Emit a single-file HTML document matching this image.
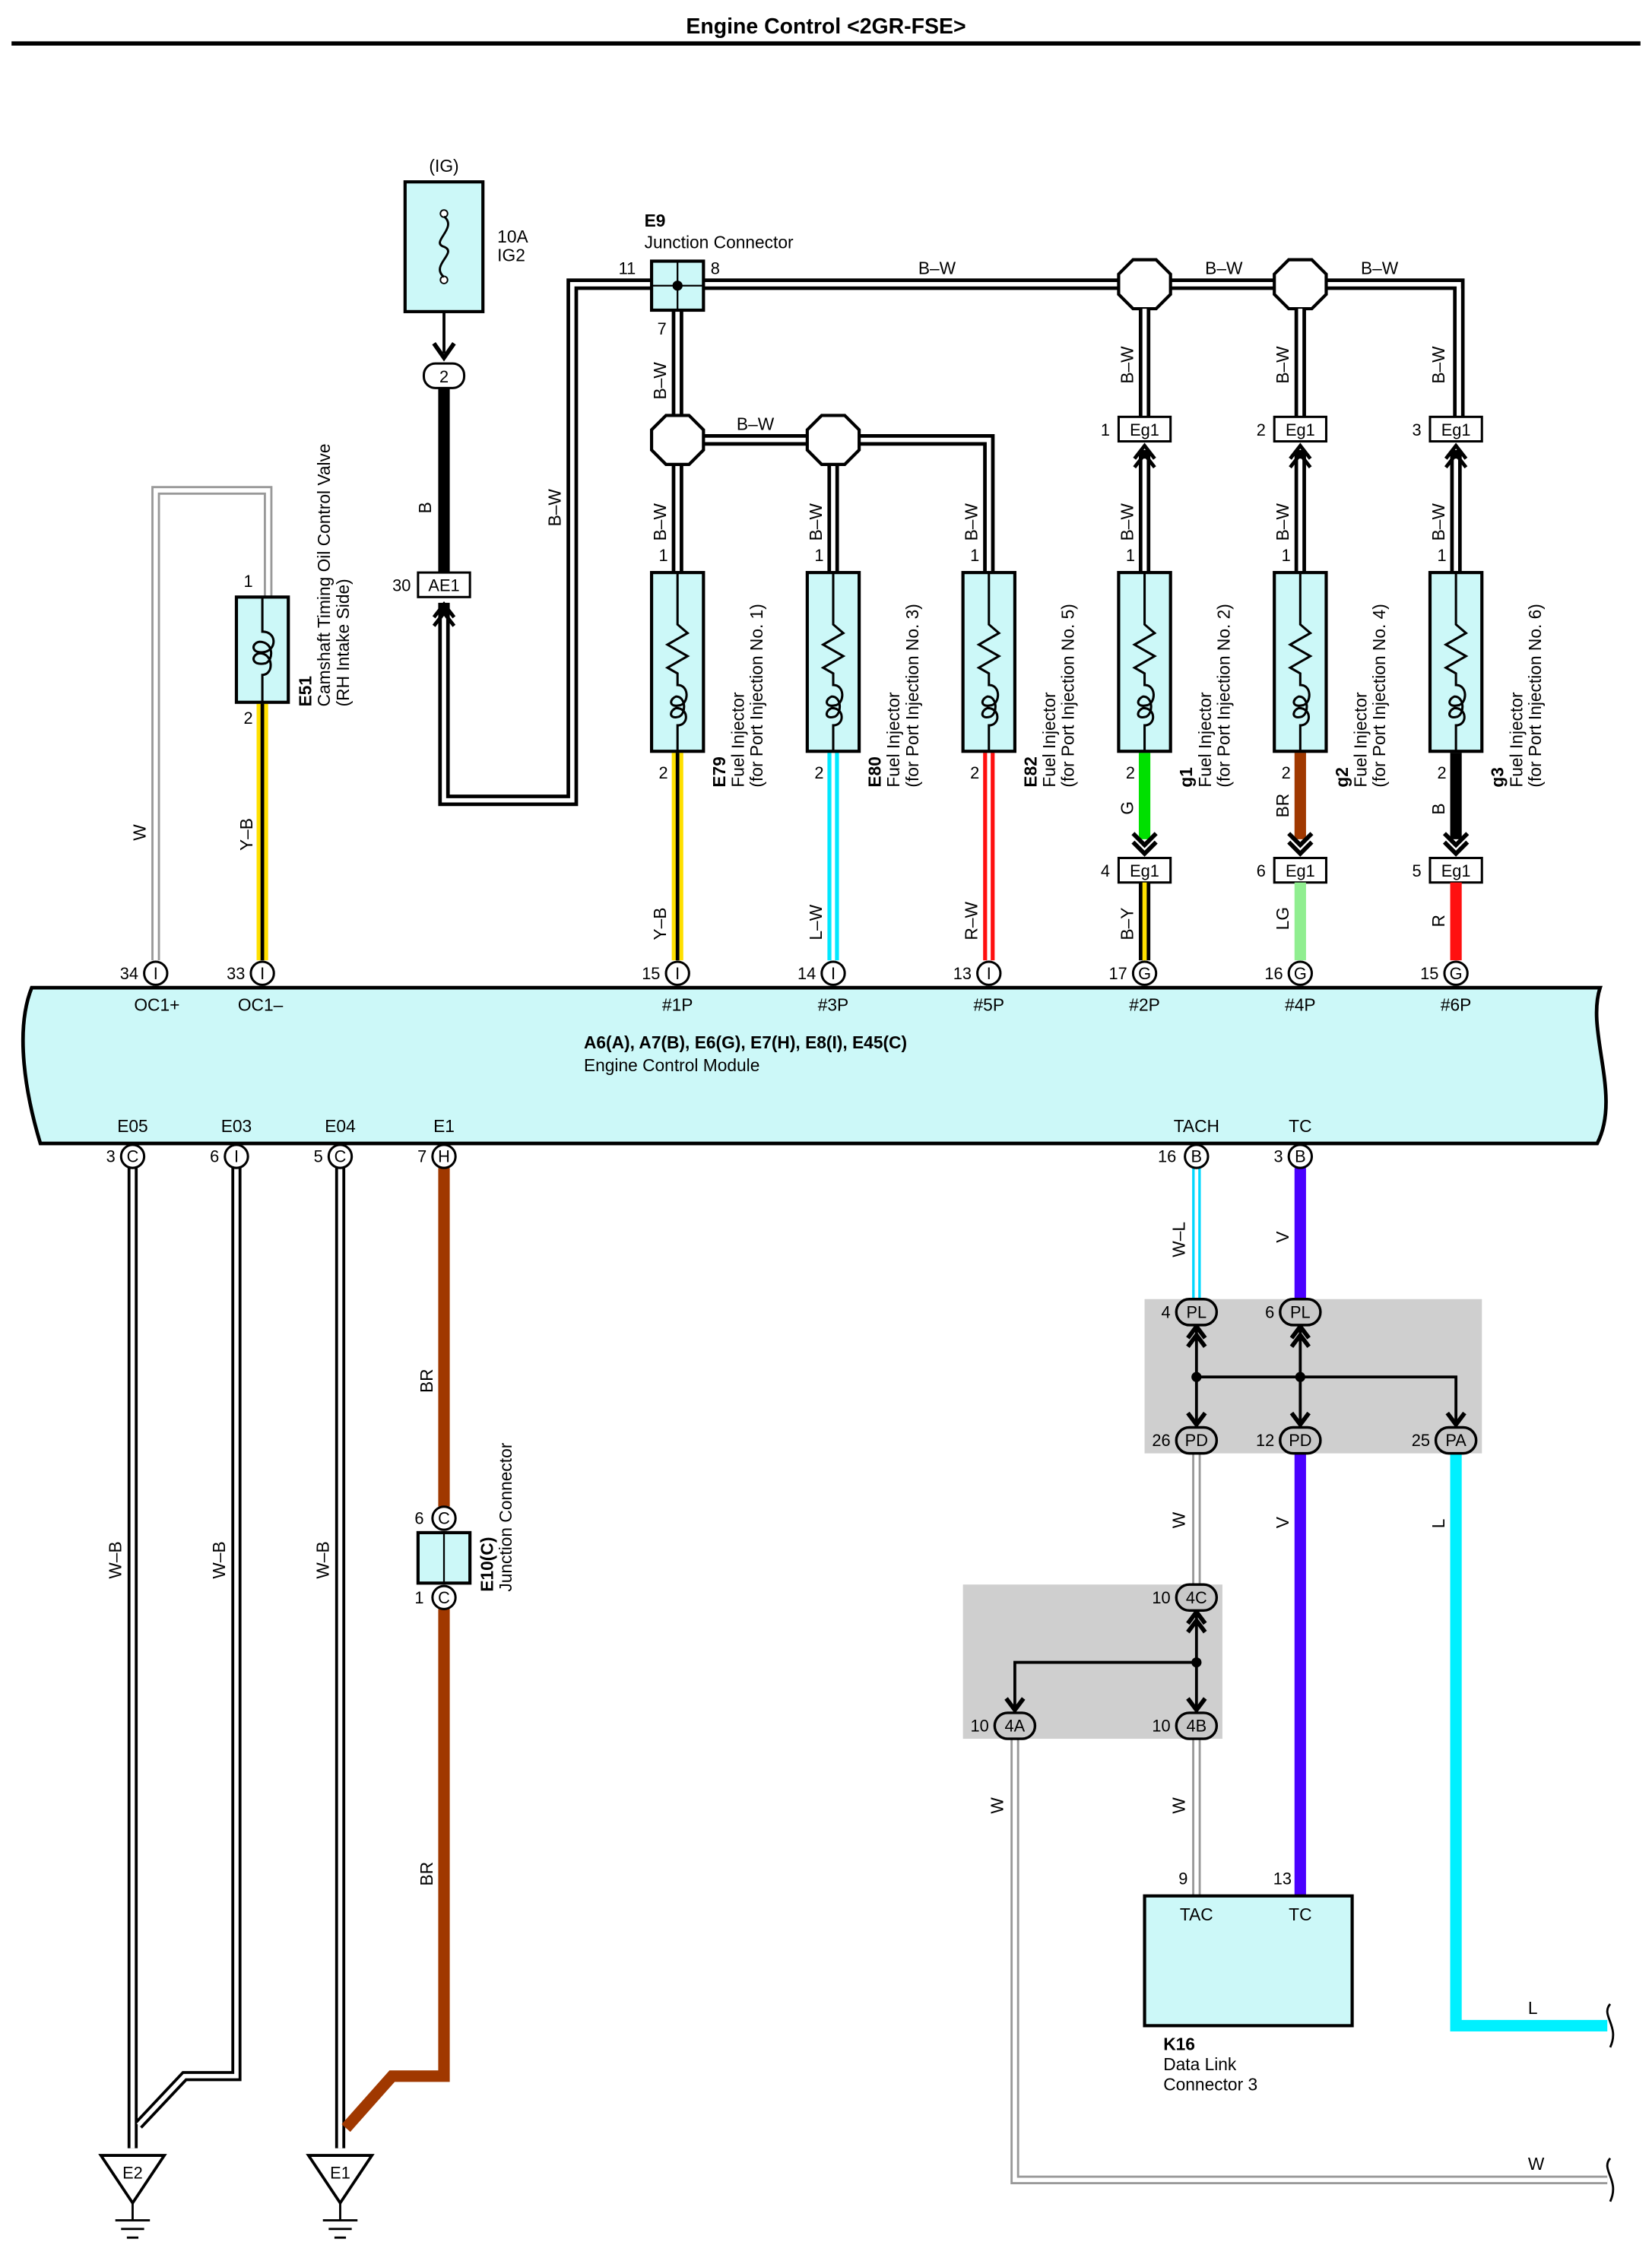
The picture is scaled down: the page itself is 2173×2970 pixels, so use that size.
<!DOCTYPE html>
<html><head><meta charset="utf-8"><style>
html,body{margin:0;padding:0;background:#fff}
svg{display:block}
text{font-family:"Liberation Sans",sans-serif;font-size:12px;fill:#000}
.b{font-weight:bold}
.n{font-size:11.5px}
.box{fill:#ccf8f8;stroke:#000;stroke-width:2.2}
.gb{fill:#cfcfcf;stroke:none}
.ov{fill:#c8c8c8;stroke:#000;stroke-width:1.8}
.c{fill:#fff;stroke:#000;stroke-width:1.6}
.w{fill:none;stroke-linejoin:miter}
</style></head><body>
<svg width="2173" height="2970" viewBox="0 0 1146 1566" xmlns="http://www.w3.org/2000/svg">
<text x="573" y="23" text-anchor="middle" class="b" style="font-size:15px">Engine Control &lt;2GR-FSE&gt;</text>
<line x1="8" y1="30" x2="1138" y2="30" stroke="#000" stroke-width="3"/>

<!-- Fuse -->
<text x="308" y="119" text-anchor="middle">(IG)</text>
<rect class="box" x="281" y="126" width="54" height="90"/>
<circle cx="308" cy="148" r="2.5" fill="#fff" stroke="#000"/>
<circle cx="308" cy="194" r="2.5" fill="#fff" stroke="#000"/>
<path d="M308,150 C318,158 298,168 308,171 C318,175 298,184 308,192" fill="none" stroke="#000" stroke-width="1.5"/>
<text x="345" y="168">10A</text><text x="345" y="181">IG2</text>
<line x1="308" y1="216" x2="308" y2="245" stroke="#000" stroke-width="2"/>
<path d="M301,238 L308,248 L315,238" fill="none" stroke="#000" stroke-width="3"/>
<rect class="c" x="294" y="252" width="28" height="17" rx="8"/>
<text x="308" y="265" text-anchor="middle" class="n">2</text>
<line x1="308" y1="269" x2="308" y2="397" stroke="#000" stroke-width="8"/>
<text transform="translate(299,356) rotate(-90)">B</text>
<rect class="c" x="290" y="397" width="36" height="17"/><text x="308" y="410" text-anchor="middle" class="n">AE1</text>
<text x="285" y="410" text-anchor="end" class="n">30</text>

<!-- B-W loop from AE1 to E9 -->
<path class="w" d="M308,418 V555 H397 V197 H452" stroke="#000" stroke-width="8"/>
<path class="w" d="M308,425 V555 H397 V197 H452" stroke="#fff" stroke-width="3"/>
<path d="M301,428 L308,419 L315,428 M301,434 L308,425 L315,434" fill="none" stroke="#000" stroke-width="2.5"/>
<text transform="translate(389,365) rotate(-90)">B–W</text>

<!-- Top B-W bus -->
<path class="w" d="M488,197 H1012 V290" stroke="#000" stroke-width="8"/>
<path class="w" d="M488,197 H1012 V290" stroke="#fff" stroke-width="3"/>
<text x="650" y="190" text-anchor="middle">B–W</text>
<text x="849" y="190" text-anchor="middle">B–W</text>
<text x="957" y="190" text-anchor="middle">B–W</text>
<!-- E9 down -->
<path class="w" d="M470,215 V305 H686 V397" stroke="#000" stroke-width="8"/>
<path class="w" d="M470,215 V305 H686 V397" stroke="#fff" stroke-width="3"/>
<path class="w" d="M470,305 V397 M578,305 V397" stroke="#000" stroke-width="8"/>
<path class="w" d="M470,305 V397 M578,305 V397" stroke="#fff" stroke-width="3"/>
<text x="524" y="298" text-anchor="middle">B–W</text>
<text transform="translate(462,277) rotate(-90)">B–W</text>
<text x="447" y="157" class="b">E9</text><text x="447" y="172">Junction Connector</text>
<rect class="box" x="452" y="181" width="36" height="34"/>
<line x1="452" y1="198" x2="488" y2="198" stroke="#000" stroke-width="1.2"/>
<line x1="470" y1="181" x2="470" y2="215" stroke="#000" stroke-width="1.2"/>
<circle cx="470" cy="198" r="3.5"/>
<text x="441" y="190" text-anchor="end" class="n">11</text><text x="493" y="190" class="n">8</text><text x="456" y="232" class="n">7</text>

<!-- Octagons -->
<g fill="#fff" stroke="#000" stroke-width="2.2">
<polygon points="462,288 478,288 488,298 488,312 478,322 462,322 452,312 452,298"/>
<polygon points="570,288 586,288 596,298 596,312 586,322 570,322 560,312 560,298"/>
<polygon points="786,180 802,180 812,190 812,204 802,214 786,214 776,204 776,190"/>
<polygon points="894,180 910,180 920,190 920,204 910,214 894,214 884,204 884,190"/>
</g>
<!-- Right B-W down to Eg1 -->
<path class="w" d="M794,214 V290 M902,214 V290" stroke="#000" stroke-width="8"/>
<path class="w" d="M794,214 V290 M902,214 V290 M1012,200 V290" stroke="#fff" stroke-width="3"/>

<!-- Injector columns -->
<g id="inj">
</g>
<script>0</script>
<!-- column elements written explicitly -->
<g>
<!-- B-W labels & wires into injectors -->
<text transform="translate(462,375) rotate(-90)">B–W</text>
<text transform="translate(570,375) rotate(-90)">B–W</text>
<text transform="translate(678,375) rotate(-90)">B–W</text>
<text transform="translate(786,375) rotate(-90)">B–W</text>
<text transform="translate(894,375) rotate(-90)">B–W</text>
<text transform="translate(1002,375) rotate(-90)">B–W</text>
<text transform="translate(786,266) rotate(-90)">B–W</text>
<text transform="translate(894,266) rotate(-90)">B–W</text>
<text transform="translate(1002,266) rotate(-90)">B–W</text>
<!-- Eg1 top boxes -->
<rect class="c" x="776" y="289" width="36" height="17"/><text x="794" y="302" text-anchor="middle" class="n">Eg1</text><text x="770" y="302" text-anchor="end" class="n">1</text>
<rect class="c" x="884" y="289" width="36" height="17"/><text x="902" y="302" text-anchor="middle" class="n">Eg1</text><text x="878" y="302" text-anchor="end" class="n">2</text>
<rect class="c" x="992" y="289" width="36" height="17"/><text x="1010" y="302" text-anchor="middle" class="n">Eg1</text><text x="986" y="302" text-anchor="end" class="n">3</text>
<path class="w" d="M794,312 V397 M902,312 V397 M1010,312 V397" stroke="#000" stroke-width="8"/>
<path class="w" d="M794,318 V397 M902,318 V397 M1010,318 V397" stroke="#fff" stroke-width="3"/>
<path d="M787,318 L794,309 L801,318 M787,324 L794,315 L801,324 M895,318 L902,309 L909,318 M895,324 L902,315 L909,324 M1003,318 L1010,309 L1017,318 M1003,324 L1010,315 L1017,324" fill="none" stroke="#000" stroke-width="2.5"/>

<!-- pin 1 labels -->
<text x="457" y="389" class="n">1</text><text x="565" y="389" class="n">1</text><text x="673" y="389" class="n">1</text>
<text x="781" y="389" class="n">1</text><text x="889" y="389" class="n">1</text><text x="997" y="389" class="n">1</text>
<text x="457" y="540" class="n">2</text><text x="565" y="540" class="n">2</text><text x="673" y="540" class="n">2</text>
<text x="781" y="540" class="n">2</text><text x="889" y="540" class="n">2</text><text x="997" y="540" class="n">2</text>

<!-- lower wires left three -->
<path d="M470,522 V666" stroke="#ffe000" stroke-width="8"/><path d="M470,522 V666" stroke="#000" stroke-width="2.5"/>
<path d="M578,522 V666" stroke="#00e8ff" stroke-width="8"/><path d="M578,522 V666" stroke="#fff" stroke-width="2.5"/>
<path d="M686,522 V666" stroke="#ff1010" stroke-width="8"/><path d="M686,522 V666" stroke="#fff" stroke-width="2.5"/>
<text transform="translate(462,652) rotate(-90)">Y–B</text>
<text transform="translate(570,652) rotate(-90)">L–W</text>
<text transform="translate(678,652) rotate(-90)">R–W</text>
<!-- right three -->
<path d="M794,522 V582" stroke="#00e000" stroke-width="8"/>
<path d="M902,522 V582" stroke="#a03800" stroke-width="8"/>
<path d="M1010,522 V582" stroke="#000" stroke-width="8"/>
<path d="M786,578 L794,586 L802,578 M786,584 L794,592 L802,584 M894,578 L902,586 L910,578 M894,584 L902,592 L910,584 M1002,578 L1010,586 L1018,578 M1002,584 L1010,592 L1018,584" fill="none" stroke="#000" stroke-width="3"/>
<text transform="translate(786,565) rotate(-90)">G</text>
<text transform="translate(894,567) rotate(-90)">BR</text>
<text transform="translate(1002,565) rotate(-90)">B</text>
<rect class="c" x="776" y="595" width="36" height="17"/><text x="794" y="608" text-anchor="middle" class="n">Eg1</text><text x="770" y="608" text-anchor="end" class="n">4</text>
<rect class="c" x="884" y="595" width="36" height="17"/><text x="902" y="608" text-anchor="middle" class="n">Eg1</text><text x="878" y="608" text-anchor="end" class="n">6</text>
<rect class="c" x="992" y="595" width="36" height="17"/><text x="1010" y="608" text-anchor="middle" class="n">Eg1</text><text x="986" y="608" text-anchor="end" class="n">5</text>
<path d="M794,612 V666" stroke="#000" stroke-width="8"/><path d="M794,612 V666" stroke="#ffe000" stroke-width="3"/>
<path d="M902,612 V666" stroke="#90ee90" stroke-width="8"/>
<path d="M1010,612 V666" stroke="#ff1010" stroke-width="8"/>
<text transform="translate(786,652) rotate(-90)">B–Y</text>
<text transform="translate(894,645) rotate(-90)">LG</text>
<text transform="translate(1002,643) rotate(-90)">R</text>
</g>

<!-- injector boxes -->
<g>
<defs>
<g id="ib">
<rect class="box" x="-18" y="0" width="36" height="124"/>
<path d="M0,0 V36 L7,42 L-7,50 L7,58 L-7,66 L0,70 V78 C8,78 8,90 2,92 C-6,94 -6,88 -1,86 C6,86 6,98 1,100 C-6,102 -6,96 -1,94 C8,94 8,106 0,106 V124" fill="none" stroke="#000" stroke-width="1.6"/>
</g>
</defs>
<use href="#ib" x="470" y="397"/><use href="#ib" x="578" y="397"/><use href="#ib" x="686" y="397"/>
<use href="#ib" x="794" y="397"/><use href="#ib" x="902" y="397"/><use href="#ib" x="1010" y="397"/>
</g>
<!-- injector labels -->
<g>
<g transform="translate(503,546) rotate(-90)"><text class="b">E79</text><text y="13">Fuel Injector</text><text y="26">(for Port Injection No. 1)</text></g>
<g transform="translate(611,546) rotate(-90)"><text class="b">E80</text><text y="13">Fuel Injector</text><text y="26">(for Port Injection No. 3)</text></g>
<g transform="translate(719,546) rotate(-90)"><text class="b">E82</text><text y="13">Fuel Injector</text><text y="26">(for Port Injection No. 5)</text></g>
<g transform="translate(827,546) rotate(-90)"><text class="b">g1</text><text y="13">Fuel Injector</text><text y="26">(for Port Injection No. 2)</text></g>
<g transform="translate(935,546) rotate(-90)"><text class="b">g2</text><text y="13">Fuel Injector</text><text y="26">(for Port Injection No. 4)</text></g>
<g transform="translate(1043,546) rotate(-90)"><text class="b">g3</text><text y="13">Fuel Injector</text><text y="26">(for Port Injection No. 6)</text></g>
</g>

<!-- Camshaft valve -->
<path class="w" d="M108,666 V340 H186 V414" stroke="#999" stroke-width="6"/>
<path class="w" d="M108,666 V340 H186 V414" stroke="#fff" stroke-width="3"/>
<text transform="translate(101,583) rotate(-90)">W</text>
<path d="M182,488 V666" stroke="#ffe000" stroke-width="8"/><path d="M182,488 V666" stroke="#000" stroke-width="2.5"/>
<text transform="translate(175,590) rotate(-90)">Y–B</text>
<text x="169" y="407" class="n">1</text><text x="169" y="502" class="n">2</text>
<rect class="box" x="164" y="414" width="36" height="73"/>
<path d="M182,414 V438 C192,438 192,450 184,452 C174,454 174,446 180,445 C190,445 190,458 184,460 C174,462 174,454 180,453 C190,453 190,468 182,468 V487" fill="none" stroke="#000" stroke-width="1.6"/>
<g transform="translate(216,490) rotate(-90)"><text class="b">E51</text><text y="13">Camshaft Timing Oil Control Valve</text><text y="26">(RH Intake Side)</text></g>

<!-- ECM -->
<path d="M22,685 H1110 C1100,715 1125,760 1108,793 H28 C18,760 10,715 22,685 Z" fill="#ccf8f8" stroke="#000" stroke-width="2.5"/>
<text x="405" y="727" class="b">A6(A), A7(B), E6(G), E7(H), E8(I), E45(C)</text>
<text x="405" y="743">Engine Control Module</text>
<!-- top pins -->
<g>
<circle class="c" cx="108" cy="675" r="8"/><text x="108" y="679" text-anchor="middle" class="n">I</text><text x="96" y="679" text-anchor="end" class="n">34</text><text x="93" y="701">OC1+</text>
<circle class="c" cx="182" cy="675" r="8"/><text x="182" y="679" text-anchor="middle" class="n">I</text><text x="170" y="679" text-anchor="end" class="n">33</text><text x="165" y="701">OC1–</text>
<circle class="c" cx="470" cy="675" r="8"/><text x="470" y="679" text-anchor="middle" class="n">I</text><text x="458" y="679" text-anchor="end" class="n">15</text><text x="470" y="701" text-anchor="middle">#1P</text>
<circle class="c" cx="578" cy="675" r="8"/><text x="578" y="679" text-anchor="middle" class="n">I</text><text x="566" y="679" text-anchor="end" class="n">14</text><text x="578" y="701" text-anchor="middle">#3P</text>
<circle class="c" cx="686" cy="675" r="8"/><text x="686" y="679" text-anchor="middle" class="n">I</text><text x="674" y="679" text-anchor="end" class="n">13</text><text x="686" y="701" text-anchor="middle">#5P</text>
<circle class="c" cx="794" cy="675" r="8"/><text x="794" y="679" text-anchor="middle" class="n">G</text><text x="782" y="679" text-anchor="end" class="n">17</text><text x="794" y="701" text-anchor="middle">#2P</text>
<circle class="c" cx="902" cy="675" r="8"/><text x="902" y="679" text-anchor="middle" class="n">G</text><text x="890" y="679" text-anchor="end" class="n">16</text><text x="902" y="701" text-anchor="middle">#4P</text>
<circle class="c" cx="1010" cy="675" r="8"/><text x="1010" y="679" text-anchor="middle" class="n">G</text><text x="998" y="679" text-anchor="end" class="n">15</text><text x="1010" y="701" text-anchor="middle">#6P</text>
</g>
<!-- bottom pins labels -->
<text x="92" y="785" text-anchor="middle">E05</text><text x="164" y="785" text-anchor="middle">E03</text>
<text x="236" y="785" text-anchor="middle">E04</text><text x="308" y="785" text-anchor="middle">E1</text>
<text x="830" y="785" text-anchor="middle">TACH</text><text x="902" y="785" text-anchor="middle">TC</text>

<!-- Ground wires -->
<path class="w" d="M92,810 V1490 M164,810 V1440 L128,1440 L96,1474 M236,810 V1490" stroke="#000" stroke-width="7"/>
<path class="w" d="M92,810 V1490 M164,810 V1440 L128,1440 L96,1474 M236,810 V1490" stroke="#fff" stroke-width="3"/>
<text transform="translate(84,1095) rotate(-90)">W–B</text>
<text transform="translate(156,1095) rotate(-90)">W–B</text>
<text transform="translate(228,1095) rotate(-90)">W–B</text>
<path class="w" d="M308,810 V1045 M308,1116 V1440 H272 L240,1476" stroke="#a03800" stroke-width="8"/>
<text transform="translate(300,966) rotate(-90)">BR</text>
<text transform="translate(300,1308) rotate(-90)">BR</text>
<circle class="c" cx="308" cy="1053" r="8"/><text x="308" y="1057" text-anchor="middle" class="n">C</text><text x="294" y="1057" text-anchor="end" class="n">6</text>
<rect class="box" x="290" y="1063" width="36" height="35"/><line x1="308" y1="1063" x2="308" y2="1098" stroke="#000" stroke-width="1.2"/>
<circle class="c" cx="308" cy="1108" r="8"/><text x="308" y="1112" text-anchor="middle" class="n">C</text><text x="294" y="1112" text-anchor="end" class="n">1</text>
<g transform="translate(342,1104) rotate(-90)"><text class="b">E10(C)</text><text y="13">Junction Connector</text></g>
<!-- grounds -->
<g fill="#fff" stroke="#000" stroke-width="2">
<polygon points="70,1495 114,1495 92,1528"/><polygon points="214,1495 258,1495 236,1528"/>
</g>
<text x="92" y="1511" text-anchor="middle" class="n">E2</text><text x="236" y="1511" text-anchor="middle" class="n">E1</text>
<path d="M92,1528 V1540 M80,1540 H104 M84,1546 H100 M88,1552 H96 M236,1528 V1540 M224,1540 H248 M228,1546 H244 M232,1552 H240" stroke="#000" stroke-width="1.5"/>
<!-- bottom ECM circles -->
<circle class="c" cx="92" cy="802" r="8"/><text x="92" y="806" text-anchor="middle" class="n">C</text><text x="80" y="806" text-anchor="end" class="n">3</text>
<circle class="c" cx="164" cy="802" r="8"/><text x="164" y="806" text-anchor="middle" class="n">I</text><text x="152" y="806" text-anchor="end" class="n">6</text>
<circle class="c" cx="236" cy="802" r="8"/><text x="236" y="806" text-anchor="middle" class="n">C</text><text x="224" y="806" text-anchor="end" class="n">5</text>
<circle class="c" cx="308" cy="802" r="8"/><text x="308" y="806" text-anchor="middle" class="n">H</text><text x="296" y="806" text-anchor="end" class="n">7</text>

<!-- Right bottom -->
<rect class="gb" x="794" y="901" width="234" height="107"/>
<rect class="gb" x="668" y="1099" width="180" height="107"/>
<path d="M830,810 V901" stroke="#00d8ff" stroke-width="6"/><path d="M830,810 V901" stroke="#fff" stroke-width="2.5"/>
<text transform="translate(822,872) rotate(-90)">W–L</text>
<path d="M902,810 V901 M902,1008 V1315" stroke="#4a00ff" stroke-width="8"/>
<text transform="translate(894,862) rotate(-90)">V</text>
<text transform="translate(894,1060) rotate(-90)">V</text>
<path class="w" d="M1010,1008 V1405 H1115" stroke="#00f0ff" stroke-width="8"/>
<text transform="translate(1002,1060) rotate(-90)">L</text>
<text x="1060" y="1397">L</text>
<path d="M1117,1390 C1110,1398 1124,1405 1117,1420 M1117,1497 C1110,1505 1124,1512 1117,1527" fill="none" stroke="#000" stroke-width="1.5"/>
<path class="w" d="M830,1008 V1100 M830,1206 V1315 M704,1206 V1512 H1115" stroke="#999" stroke-width="6"/>
<path class="w" d="M830,1008 V1100 M830,1206 V1315 M704,1206 V1512 H1115" stroke="#fff" stroke-width="3"/>
<text transform="translate(822,1060) rotate(-90)">W</text>
<text transform="translate(822,1258) rotate(-90)">W</text>
<text transform="translate(696,1258) rotate(-90)">W</text>
<text x="1060" y="1505">W</text>
<!-- internal junction lines -->
<path d="M830,920 V990 M902,920 V990 M830,955 H1010 V990 M830,1117 V1188 M830,1153 H704 V1188" fill="none" stroke="#000" stroke-width="2"/>
<circle cx="830" cy="955" r="3.5"/><circle cx="902" cy="955" r="3.5"/><circle cx="830" cy="1153" r="3.5"/>
<path d="M824,928 L830,920 L836,928 M824,934 L830,926 L836,934 M896,928 L902,920 L908,928 M896,934 L902,926 L908,934 M824,980 L830,988 L836,980 M896,980 L902,988 L908,980 M1004,980 L1010,988 L1016,980 M824,1126 L830,1118 L836,1126 M824,1132 L830,1124 L836,1132 M824,1178 L830,1186 L836,1178 M698,1178 L704,1186 L710,1178" fill="none" stroke="#000" stroke-width="3"/>
<g>
<rect class="ov" x="816" y="901" width="28" height="18" rx="9"/><text x="830" y="914" text-anchor="middle" class="n">PL</text><text x="812" y="914" text-anchor="end" class="n">4</text>
<rect class="ov" x="888" y="901" width="28" height="18" rx="9"/><text x="902" y="914" text-anchor="middle" class="n">PL</text><text x="884" y="914" text-anchor="end" class="n">6</text>
<rect class="ov" x="816" y="990" width="28" height="18" rx="9"/><text x="830" y="1003" text-anchor="middle" class="n">PD</text><text x="812" y="1003" text-anchor="end" class="n">26</text>
<rect class="ov" x="888" y="990" width="28" height="18" rx="9"/><text x="902" y="1003" text-anchor="middle" class="n">PD</text><text x="884" y="1003" text-anchor="end" class="n">12</text>
<rect class="ov" x="996" y="990" width="28" height="18" rx="9"/><text x="1010" y="1003" text-anchor="middle" class="n">PA</text><text x="992" y="1003" text-anchor="end" class="n">25</text>
<rect class="ov" x="816" y="1099" width="28" height="18" rx="9"/><text x="830" y="1112" text-anchor="middle" class="n">4C</text><text x="812" y="1112" text-anchor="end" class="n">10</text>
<rect class="ov" x="816" y="1188" width="28" height="18" rx="9"/><text x="830" y="1201" text-anchor="middle" class="n">4B</text><text x="812" y="1201" text-anchor="end" class="n">10</text>
<rect class="ov" x="690" y="1188" width="28" height="18" rx="9"/><text x="704" y="1201" text-anchor="middle" class="n">4A</text><text x="686" y="1201" text-anchor="end" class="n">10</text>
</g>
<circle class="c" cx="830" cy="802" r="8"/><text x="830" y="806" text-anchor="middle" class="n">B</text><text x="816" y="806" text-anchor="end" class="n">16</text>
<circle class="c" cx="902" cy="802" r="8"/><text x="902" y="806" text-anchor="middle" class="n">B</text><text x="890" y="806" text-anchor="end" class="n">3</text>
<!-- K16 -->
<rect class="box" x="794" y="1315" width="144" height="90"/>
<text x="830" y="1332" text-anchor="middle">TAC</text><text x="902" y="1332" text-anchor="middle">TC</text>
<text x="824" y="1307" text-anchor="end" class="n">9</text><text x="896" y="1307" text-anchor="end" class="n">13</text>
<text x="807" y="1422" class="b">K16</text><text x="807" y="1436">Data Link</text><text x="807" y="1450">Connector 3</text>
</svg>
</body></html>
